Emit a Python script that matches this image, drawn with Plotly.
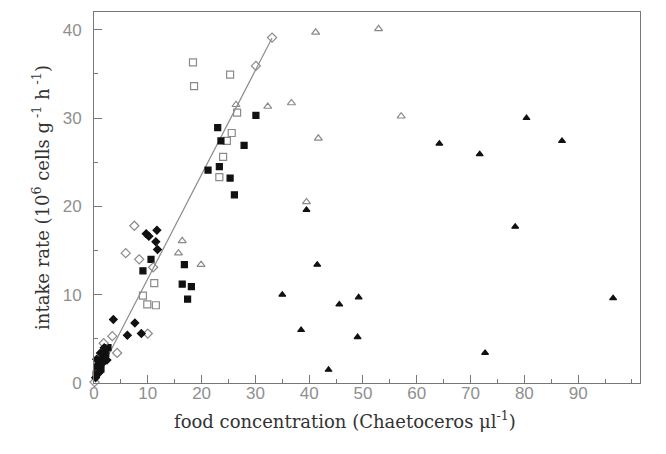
import plotly.graph_objects as go

# Intake rate vs food concentration, grouped by treatment
open_sq_x = [18.4, 18.6, 25.3, 26.6, 25.6, 24.7, 24.0, 23.3, 11.2, 9.1, 9.9, 11.5]
open_sq_y = [36.3, 33.6, 34.9, 30.6, 28.3, 27.4, 25.6, 23.3, 11.3, 9.9, 8.9, 8.8]

filled_sq_x = [30.1, 23.0, 23.6, 27.9, 21.2, 23.3, 25.3, 26.1, 16.8, 16.4, 18.1, 17.4, 10.6, 9.1,
               0.4, 0.8, 1.3, 1.7, 2.2, 0.6, 1.1, 2.6]
filled_sq_y = [30.3, 28.9, 27.4, 26.9, 24.1, 24.5, 23.2, 21.3, 13.4, 11.2, 10.9, 9.5, 14.0, 12.7,
               1.0, 2.2, 1.6, 2.9, 3.4, 1.8, 2.6, 4.0]

open_dia_x = [33.1, 30.1, 7.5, 5.9, 8.4, 11.0, 10.0, 3.4, 4.3, 1.8, 0.1]
open_dia_y = [39.1, 35.9, 17.8, 14.7, 14.0, 13.1, 5.6, 5.3, 3.4, 4.5, 0.1]

filled_dia_x = [11.7, 9.7, 10.2, 11.5, 11.8, 3.6, 7.6, 6.2, 8.8,
                0.3, 1.0, 1.5, 2.0, 0.5, 1.2, 2.4, 1.9]
filled_dia_y = [17.3, 16.9, 16.6, 16.0, 15.1, 7.2, 6.8, 5.4, 5.6,
                0.6, 1.2, 2.2, 3.0, 2.7, 3.4, 2.6, 4.0]

open_tri_x = [41.2, 52.9, 26.4, 32.3, 36.7, 57.1, 41.7, 39.5, 16.4, 15.7, 19.9]
open_tri_y = [39.7, 40.1, 31.5, 31.3, 31.7, 30.2, 27.7, 20.5, 16.1, 14.7, 13.4]

filled_tri_x = [64.2, 71.7, 80.4, 87.0, 78.3, 39.5, 41.5, 35.0, 45.6, 49.2, 38.5, 49.0, 43.6, 72.7, 96.5]
filled_tri_y = [27.1, 25.9, 30.0, 27.4, 17.7, 19.6, 13.4, 10.0, 8.9, 9.7, 6.0, 5.2, 1.5, 3.4, 9.6]

# Regression line through the low-concentration data
fit_slope = 1.18
fit_intercept = 0.0
fit_x = [0.5, 33.1]

x_ticks = [0, 10, 20, 30, 40, 50, 60, 70, 80, 90]
y_ticks = [0, 10, 20, 30, 40]

x_title = "food concentration (Chaetoceros \u03bcl<sup>-1</sup>)"
y_title = "intake rate (10<sup>6</sup> cells g<sup> -1</sup> h<sup> -1</sup>)"

OPEN_COLOR = "#8a8a8a"
FILLED_COLOR = "#111111"

fig = go.Figure()

fig.add_trace(go.Scatter(
    x=fit_x, y=[fit_slope * v + fit_intercept for v in fit_x],
    mode="lines", line=dict(color="#8c8c8c", width=1.2), showlegend=False))

series = [
    (open_sq_x, open_sq_y, "square-open", OPEN_COLOR, 7),
    (filled_sq_x, filled_sq_y, "square", FILLED_COLOR, 6),
    (open_dia_x, open_dia_y, "diamond-open", OPEN_COLOR, 7),
    (filled_dia_x, filled_dia_y, "diamond", FILLED_COLOR, 6),
    (open_tri_x, open_tri_y, "triangle-up-open", OPEN_COLOR, 7),
    (filled_tri_x, filled_tri_y, "triangle-up", FILLED_COLOR, 6),
]
for xs, ys, sym, col, size in series:
    fig.add_trace(go.Scatter(
        x=xs, y=ys, mode="markers", cliponaxis=False, showlegend=False,
        marker=dict(symbol=sym, size=size, color=col,
                    line=dict(color=col, width=1.2))))

tick_font = dict(family="Liberation Sans, Arial, sans-serif", size=17, color="#8f8f8f")
title_font = dict(family="DejaVu Serif, Liberation Serif, serif", size=18, color="#333333")

fig.update_xaxes(
    range=[0, 101.5], tickvals=x_ticks, ticktext=[str(v) for v in x_ticks],
    ticks="inside", ticklen=8, tickcolor="#777777", tickwidth=1,
    minor=dict(dtick=5, ticks="inside", ticklen=4, tickcolor="#777777"),
    showline=True, linecolor="#777777", linewidth=1, mirror=True,
    showgrid=False, zeroline=False, tickfont=tick_font, ticklabelstandoff=-5)
fig.update_yaxes(
    range=[0, 42], tickvals=y_ticks, ticktext=[str(v) for v in y_ticks],
    ticks="inside", ticklen=8, tickcolor="#777777", tickwidth=1,
    minor=dict(dtick=5, ticks="inside", ticklen=4, tickcolor="#777777"),
    showline=True, linecolor="#777777", linewidth=1, mirror=True,
    showgrid=False, zeroline=False, tickfont=tick_font, ticklabelstandoff=8,
    title=dict(text=y_title, font=title_font, standoff=8))

# x-axis title placed as an annotation, slightly left of the plot centre
fig.add_annotation(
    text=x_title, xref="paper", yref="paper", x=0.46, y=-0.1,
    xanchor="center", yanchor="middle", showarrow=False, font=title_font)

fig.update_layout(
    width=666, height=454,
    margin=dict(l=94, r=26, t=12, b=71),
    paper_bgcolor="white", plot_bgcolor="white")

fig.write_html("out.html")
